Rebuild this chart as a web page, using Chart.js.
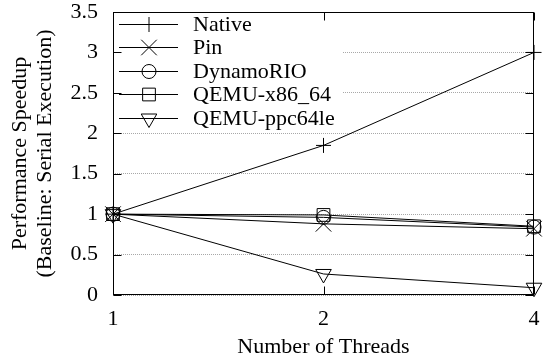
<!DOCTYPE html>
<html>
<head>
<meta charset="utf-8">
<script src="https://cdn.jsdelivr.net/npm/chart.js@4"></script>
<style>
  html, body { margin: 0; padding: 0; background: #fff; }
</style>
</head>
<body>
<canvas id="chart" width="546" height="360"></canvas>
<script>
const threads = [1, 2, 4];
const yTicks = [0, 0.5, 1, 1.5, 2, 2.5, 3, 3.5];
const native = [1, 1.85, 3.0];
const pin = [1, 0.88, 0.82];
const dynamorio = [1, 0.96, 0.84];
const qemuX86 = [1, 0.99, 0.85];
const qemuPpc = [1, 0.26, 0.09];

const FONT = '"Liberation Serif", "Times New Roman", serif';

function series(label, values, style, radius, rotation) {
  return {
    label: label,
    data: threads.map((t, i) => ({ x: t, y: values[i] })),
    borderColor: "#000",
    borderWidth: 1,
    pointStyle: style,
    pointRadius: radius,
    pointRotation: rotation || 0,
    pointBorderColor: "#000",
    pointBorderWidth: 1,
    pointBackgroundColor: "rgba(0,0,0,0)",
    tension: 0,
    clip: false
  };
}

// gnuplot-like key with opaque background, drawn over the grid
const keyBox = {
  id: "keyBox",
  beforeDatasetsDraw(chart) {
    const ctx = chart.ctx;
    const area = chart.chartArea;
    ctx.save();
    ctx.fillStyle = "#fff";
    ctx.fillRect(area.left + 1, area.top + 1, 228, 117);
    ctx.font = "22px " + FONT;
    ctx.textBaseline = "middle";
    chart.data.datasets.forEach((ds, i) => {
      const y = Math.round(area.top + 12 + i * 23.4) + 0.5;
      ctx.strokeStyle = "#000";
      ctx.lineWidth = 1;
      ctx.beginPath();
      ctx.moveTo(area.left + 6, y);
      ctx.lineTo(area.left + 65, y);
      ctx.stroke();
      ctx.fillStyle = "rgba(0,0,0,0)";
      Chart.helpers.drawPoint(ctx, {
        pointStyle: ds.pointStyle,
        radius: ds.pointRadius,
        rotation: ds.pointRotation,
        borderWidth: 1
      }, area.left + 36, y);
      ctx.fillStyle = "#000";
      ctx.fillText(ds.label, area.left + 80, y + 1);
    });
    ctx.restore();
  }
};

// plot border and inward ticks
const frame = {
  id: "frame",
  afterDatasetsDraw(chart) {
    const ctx = chart.ctx;
    const a = chart.chartArea;
    const L = Math.round(a.left) + 0.5, R = Math.round(a.right) - 0.5;
    const T = Math.round(a.top) + 0.5, B = Math.round(a.bottom) - 0.5;
    ctx.save();
    ctx.strokeStyle = "#000";
    ctx.lineWidth = 1;
    ctx.strokeRect(L, T, R - L, B - T);
    ctx.beginPath();
    yTicks.forEach(v => {
      const y = Math.round(chart.scales.y.getPixelForValue(v)) + 0.5;
      ctx.moveTo(L, y); ctx.lineTo(L + 8, y);
      ctx.moveTo(R, y); ctx.lineTo(R - 8, y);
    });
    threads.forEach(v => {
      const x = Math.round(chart.scales.x.getPixelForValue(v)) + 0.5;
      ctx.moveTo(x, B); ctx.lineTo(x, B - 8);
      ctx.moveTo(x, T); ctx.lineTo(x, T + 8);
    });
    ctx.stroke();
    ctx.restore();
  }
};

new Chart(document.getElementById("chart"), {
  type: "line",
  data: {
    datasets: [
      series("Native", native, "cross", 7.5),
      series("Pin", pin, "crossRot", 11),
      series("DynamoRIO", dynamorio, "circle", 7),
      series("QEMU-x86_64", qemuX86, "rect", 9),
      series("QEMU-ppc64le", qemuPpc, "triangle", 9, 180)
    ]
  },
  options: {
    responsive: false,
    animation: false,
    events: [],
    layout: { padding: { top: 11, right: 6, left: 0, bottom: 0 } },
    plugins: {
      legend: { display: false },
      tooltip: { enabled: false }
    },
    scales: {
      x: {
        type: "logarithmic",
        min: 1,
        max: 4,
        afterBuildTicks: scale => { scale.ticks = threads.map(v => ({ value: v })); },
        afterFit: scale => {
          scale.height = 65;
          scale.paddingLeft = 0;
          scale.paddingRight = 0;
        },
        ticks: {
          color: "#000",
          padding: 11,
          maxRotation: 0,
          font: { family: FONT, size: 22 },
          callback: v => String(v)
        },
        grid: { display: false, drawTicks: false },
        border: { display: false },
        title: {
          display: true,
          text: "Number of Threads",
          color: "#000",
          font: { family: FONT, size: 22 },
          padding: { top: 0, bottom: 0 }
        }
      },
      y: {
        min: 0,
        max: 3.5,
        afterBuildTicks: scale => { scale.ticks = yTicks.map(v => ({ value: v })); },
        afterFit: scale => {
          scale.width = 113;
          scale.paddingTop = 0;
          scale.paddingBottom = 0;
        },
        ticks: {
          color: "#000",
          padding: 15,
          font: { family: FONT, size: 22 },
          callback: v => String(v)
        },
        grid: {
          drawTicks: false,
          color: "#a8a8a8",
          lineWidth: 1
        },
        border: { display: false, dash: [1, 1] },
        title: {
          display: true,
          text: ["Performance Speedup", "(Baseline: Serial Execution)"],
          color: "#000",
          font: { family: FONT, size: 22, lineHeight: "25px" },
          padding: { top: 7.5, bottom: 0 }
        }
      }
    }
  },
  plugins: [keyBox, frame]
});
</script>
</body>
</html>
